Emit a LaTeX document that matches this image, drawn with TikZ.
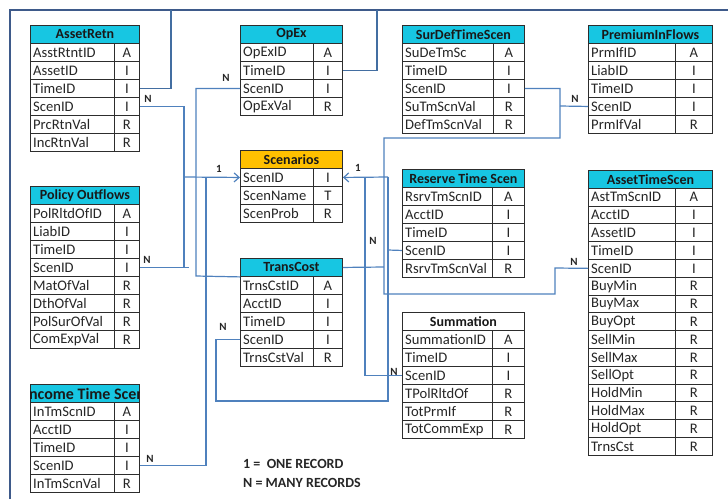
\documentclass[tikz,border=0pt]{standalone}
\usepackage{fontspec}
\setmainfont{Carlito}
\usetikzlibrary{arrows.meta}

\definecolor{hdrcyan}{RGB}{23,198,226}
\definecolor{hdrorange}{RGB}{255,192,0}
\definecolor{linkblue}{RGB}{79,129,189}
\definecolor{framebl}{RGB}{62,90,138}
\definecolor{gridc}{RGB}{45,45,45}

\tikzset{
  cell/.style={draw=gridc, line width=0.9pt, inner sep=0pt, anchor=north west},
  fieldtxt/.style={font=\fontsize{14.6}{16}\selectfont, anchor=west, inner sep=0pt, text=black!85},
  typetxt/.style={font=\fontsize{14.6}{16}\selectfont, inner sep=0pt, text=black!85},
  titletxt/.style={font=\bfseries\fontsize{14}{16}\selectfont, inner sep=0pt, text=black!90},
  link/.style={draw=linkblue, line width=1.2pt},
  trunk/.style={draw=linkblue!85!black, line width=1.9pt},
  frameline/.style={draw=framebl, line width=2.6pt},
  card/.style={font=\bfseries\fontsize{11}{12}\selectfont, inner sep=0pt, text=black!85},
  legendtxt/.style={font=\bfseries\fontsize{14}{15}\selectfont, inner sep=0pt, anchor=west, text=black!85},
  oneend/.style={-{Straight Barb[length=5pt,width=9pt,line width=1.2pt]}},
}

% #1 id, #2 left, #3 top, #4 width, #5 field column width,
% #6 row height, #7 title, #8 title fill, #9 field/type rows
\newcommand{\ertable}[9]{%
  \node[cell, fill=#8, minimum width=#4pt, minimum height=#6pt] (#1-h) at (#2,#3) {};
  \begin{scope}
    \clip (#1-h.south west) rectangle (#1-h.north east);
    \node[titletxt] at (#1-h.center) {#7};
  \end{scope}
  \foreach [count=\i] \f/\t in {#9} {
    \node[cell, fill=white, minimum width=#5pt, minimum height=#6pt] (#1-\i) at (#2, #3+\i*#6) {};
    \node[cell, fill=white, minimum width=#4pt-#5pt, minimum height=#6pt] (#1-t\i) at (#2+#5, #3+\i*#6) {};
    \node[fieldtxt] at ([xshift=3pt]#1-\i.west) {\f};
    \node[typetxt] at (#1-t\i.center) {\t};
  }%
}

\begin{document}
\begin{tikzpicture}[x=1pt, y=-1pt]
\useasboundingbox (0,0) rectangle (728,499);

% outer frame
\draw[frameline] (10,499) -- (10,10) -- (728,10);

% tables
\ertable{ar}{30}{25}{109}{84}{18}{AssetRetn}{hdrcyan}
  {AsstRtntID/A, AssetID/I, TimeID/I, ScenID/I, PrcRtnVal/R, IncRtnVal/R}
\ertable{op}{240}{25}{102}{73}{18}{OpEx}{hdrcyan}
  {OpExID/A, TimeID/I, ScenID/I, OpExVal/R}
\ertable{sd}{402}{25}{122}{91}{18}{SurDefTimeScen}{hdrcyan}
  {SuDeTmSc/A, TimeID/I, ScenID/I, SuTmScnVal/R, DefTmScnVal/R}
\ertable{pi}{588}{25}{124}{87}{18}{PremiumInFlows}{hdrcyan}
  {PrmIfID/A, LiabID/I, TimeID/I, ScenID/I, PrmIfVal/R}
\ertable{po}{30}{186}{109}{84}{18}{Policy Outflows}{hdrcyan}
  {PolRltdOfID/A, LiabID/I, TimeID/I, ScenID/I, MatOfVal/R, DthOfVal/R, PolSurOfVal/R, ComExpVal/R}
\ertable{sc}{240}{150}{102}{73}{18}{Scenarios}{hdrorange}
  {ScenID/I, ScenName/T, ScenProb/R}
\ertable{tc}{240}{258}{102}{73}{18}{TransCost}{hdrcyan}
  {TrnsCstID/A, AcctID/I, TimeID/I, ScenID/I, TrnsCstVal/R}
\ertable{rt}{402}{169}{122}{90}{18}{Reserve Time Scen}{hdrcyan}
  {RsrvTmScnID/A, AcctID/I, TimeID/I, ScenID/I, RsrvTmScnVal/R}
\ertable{sm}{402}{312}{122}{90}{18}{Summation}{white}
  {SummationID/A, TimeID/I, ScenID/I, TPolRltdOf/R, TotPrmIf/R, TotCommExp/R}
\ertable{at}{588}{170}{124}{87}{17.8}{AssetTimeScen}{hdrcyan}
  {AstTmScnID/A, AcctID/I, AssetID/I, TimeID/I, ScenID/I, BuyMin/R, BuyMax/R, BuyOpt/R,
   SellMin/R, SellMax/R, SellOpt/R, HoldMin/R, HoldMax/R, HoldOpt/R, TrnsCst/R}
\ertable{it}{30}{384}{109}{84}{18}{\fontsize{16}{18}\selectfont Income Time Scen}{hdrcyan}
  {InTmScnID/A, AcctID/I, TimeID/I, ScenID/I, InTmScnVal/R}

% bus points
\coordinate (busL) at (184,177);
\coordinate (busR) at (388,177);

% time links into the frame
\draw[trunk] (ar-t3.east) -| (171,10);
\draw[trunk] (op-t2.east) -| (377,10);

% left side of Scenarios
\draw[link] (ar-t4.east) -| (184,267);
\draw[link] (po-t4.east) -- ++(49,0);
\draw[link, oneend] (busL) -- (sc-1.west);
\draw[link] (op-3.west) -| (196,276) -- (tc-h.south west);
\draw[link] (it-t4.east) -| (206,177);
\draw[link] (tc-4.west) -| (216,401) -| (busR);

% right side of Scenarios
\draw[link, oneend] (busR) -- (sc-t1.east);
\draw[link] (sm-3.west) -| (365,177);
\draw[link] (rt-4.west) -- (388,250);
\draw[link] (tc-h.east) -- (384,267);
\draw[link] (sd-t3.east) -| (560,138) -| (384,294) -| (555,268) -- (at-5.west);
\draw[link] (pi-4.west) -- (560,106);

% cardinalities
\node[card] (c1) at (148,99) {N};
\node[card] (c2) at (226,78) {N};
\node[card] (c3) at (575,99) {N};
\node[card] (c4) at (219,169) {1};
\node[card] (c5) at (358,168) {1};
\node[card] (c6) at (147,260) {N};
\node[card] (c7) at (373,241) {N};
\node[card] (c8) at (223,327) {N};
\node[card] (c9) at (394,372) {N};
\node[card] (c10) at (574,262) {N};
\node[card] (c11) at (150,459) {N};

% legend
\node[legendtxt] (lg1) at (243,464) {1 =\ \ ONE RECORD};
\node[legendtxt] (lg2) at (243,483) {N = MANY RECORDS};
\end{tikzpicture}
\end{document}
